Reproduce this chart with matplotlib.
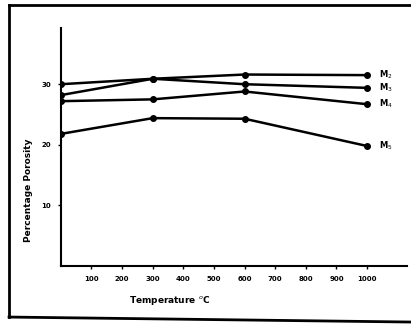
import numpy as np
from matplotlib import pyplot as plt
from matplotlib.lines import Line2D

temps = [0, 300, 600, 1000]
m2 = [30.0, 30.9, 31.6, 31.5]
m3 = [28.2, 30.9, 30.0, 29.4]
m4 = [27.2, 27.5, 28.8, 26.7]
m5 = [21.8, 24.4, 24.3, 19.8]
series = [('M$_2$', m2), ('M$_3$', m3), ('M$_4$', m4), ('M$_5$', m5)]
xticks = [100, 200, 300, 400, 500, 600, 700, 800, 900, 1000]
yticks = [10, 20, 30]

fig = plt.figure(figsize=(4.11, 3.32), dpi=100)
ax = fig.add_axes([0.148, 0.199, 0.842, 0.717])

for name, vals in series:
    ax.plot(temps, vals, 'k-', lw=1.8, marker='o', ms=4)
    ax.text(temps[-1] + 40, vals[-1], name, fontsize=6, fontweight='bold', va='center')

ax.set_xlim(0, 1130)
ax.set_ylim(0, 39.3)
ax.set_xticks(xticks)
ax.set_xticklabels([str(t) for t in xticks], fontsize=5, fontweight='bold')
ax.set_yticks(yticks)
ax.set_yticklabels([str(t) for t in yticks], fontsize=5, fontweight='bold')
ax.tick_params(direction='out', length=2, width=1, pad=5)
for s in ['top', 'right']:
    ax.spines[s].set_visible(False)
for s in ['left', 'bottom']:
    ax.spines[s].set_linewidth(1.5)

ax.set_xlabel('Temperature $^o$C', fontsize=6.5, fontweight='bold')
ax.set_ylabel('Percentage Porosity', fontsize=6.5, fontweight='bold')
ax.xaxis.set_label_coords(0.315, -0.12)
ax.yaxis.set_label_coords(-0.08, 0.32)

# hand-drawn outer border
fig.add_artist(Line2D([0.022, 1.0], [0.985, 0.985], color='k', lw=2))
fig.add_artist(Line2D([0.022, 0.022], [0.985, 0.045], color='k', lw=2))
fig.add_artist(Line2D([0.022, 1.0], [0.045, 0.03], color='k', lw=2))

fig.savefig('out.png', dpi=100)
